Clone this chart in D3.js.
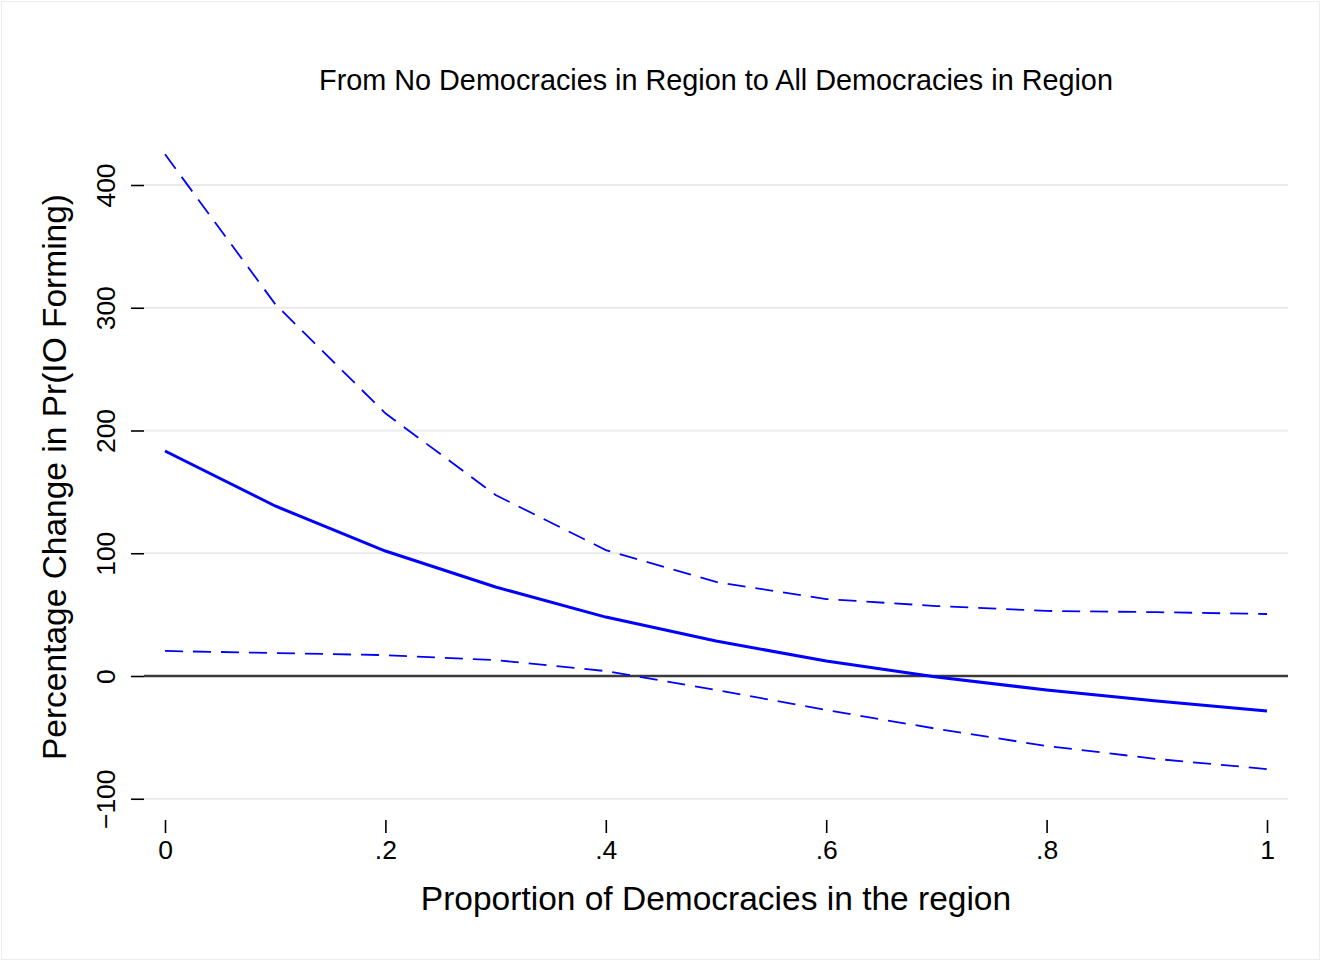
<!DOCTYPE html>
<html>
<head>
<meta charset="utf-8">
<script src="https://cdn.jsdelivr.net/npm/d3@7"></script>
<style>
  html, body { margin: 0; padding: 0; background: #fff; }
  svg { display: block; font-family: "Liberation Sans", Arial, sans-serif; }
</style>
</head>
<body>
<svg id="chart" width="1321" height="961"></svg>
<script>
// Proportion of democracies in the region
const proportion = [0, 0.1, 0.2, 0.3, 0.4, 0.5, 0.6, 0.7, 0.8, 0.9, 1.0];
// Estimated percentage change in Pr(IO forming) with 95% bounds
const estimate = [183.3, 138.5, 101.8, 72.5, 48.0, 28.5, 12.2, -0.8, -11.4, -20.4, -28.5];
const upperBound = [425, 303, 214, 147.5, 102.6, 76.6, 62.7, 57, 53, 52, 50.5];
const lowerBound = [20.4, 18.7, 17.0, 13.0, 4.0, -11.4, -27.7, -43.0, -57.0, -67.6, -75.8];

const xTicks = [0, 0.2, 0.4, 0.6, 0.8, 1];
const xTickLabels = ["0", ".2", ".4", ".6", ".8", "1"];
const yTicks = [-100, 0, 100, 200, 300, 400];

const svg = d3.select("#chart");
const W = 1321, H = 961;

// outer frame
svg.append("rect")
  .attr("x", 1.5).attr("y", 1.5).attr("width", W - 3).attr("height", H - 3)
  .attr("fill", "#fff").attr("stroke", "#ececec").attr("stroke-width", 1);

const plotLeft = 144, plotRight = 1288;
const x = d3.scaleLinear().domain([0, 1]).range([165, 1267]);
const y = d3.scaleLinear().domain([0, 400]).range([676, 185]);

// horizontal grid
svg.append("g")
  .selectAll("line")
  .data(yTicks.filter(d => d !== 0))
  .join("line")
  .attr("x1", plotLeft).attr("x2", plotRight)
  .attr("y1", d => y(d)).attr("y2", d => y(d))
  .attr("stroke", "#eaeaea").attr("stroke-width", 2);

// y axis (ticks and rotated labels)
const yAxis = svg.append("g")
  .attr("transform", `translate(${plotLeft},0)`)
  .call(d3.axisLeft(y).tickValues(yTicks).tickSize(13).tickPadding(9)
    .tickFormat(d => d < 0 ? "\u2212" + Math.abs(d) : String(d)));
yAxis.attr("font-size", 26.5).attr("font-family", null);
yAxis.select(".domain").remove();
yAxis.selectAll(".tick line").attr("stroke", "#000").attr("stroke-width", 1.6);
yAxis.selectAll(".tick text")
  .attr("fill", "#000")
  .attr("text-anchor", "middle")
  .attr("dy", 0)
  .attr("transform", "translate(-29,0) rotate(-90)")
  .attr("x", 0).attr("y", 0);

// x axis
const xAxis = svg.append("g")
  .attr("transform", `translate(0,${820})`)
  .call(d3.axisBottom(x).tickValues(xTicks).tickSize(13).tickPadding(7)
    .tickFormat((d, i) => xTickLabels[i]));
xAxis.attr("font-size", 26.5).attr("font-family", null);
xAxis.select(".domain").remove();
xAxis.selectAll(".tick line").attr("stroke", "#000").attr("stroke-width", 1.6);
xAxis.selectAll(".tick text").attr("fill", "#000");

// zero reference line
svg.append("line")
  .attr("x1", plotLeft).attr("x2", plotRight)
  .attr("y1", y(0)).attr("y2", y(0))
  .attr("stroke", "#3a3a3a").attr("stroke-width", 2.4);

const line = vals => d3.line()
  .x((d, i) => x(proportion[i]))
  .y(d => y(d))(vals);

// confidence bounds
[upperBound, lowerBound].forEach(vals => {
  svg.append("path")
    .attr("d", line(vals))
    .attr("fill", "none").attr("stroke", "#0000ff")
    .attr("stroke-width", 1.8)
    .attr("stroke-dasharray", "18 10");
});

// point estimate
svg.append("path")
  .attr("d", line(estimate))
  .attr("fill", "none").attr("stroke", "#0000ff")
  .attr("stroke-width", 3);

// titles
svg.append("text")
  .attr("x", 716).attr("y", 90)
  .attr("text-anchor", "middle").attr("font-size", 28.8)
  .text("From No Democracies in Region to All Democracies in Region");

svg.append("text")
  .attr("x", 716).attr("y", 910)
  .attr("text-anchor", "middle").attr("font-size", 33.5)
  .text("Proportion of Democracies in the region");

svg.append("text")
  .attr("transform", "translate(66,477) rotate(-90)")
  .attr("text-anchor", "middle").attr("font-size", 33.5)
  .text("Percentage Change in Pr(IO Forming)");
</script>
</body>
</html>
